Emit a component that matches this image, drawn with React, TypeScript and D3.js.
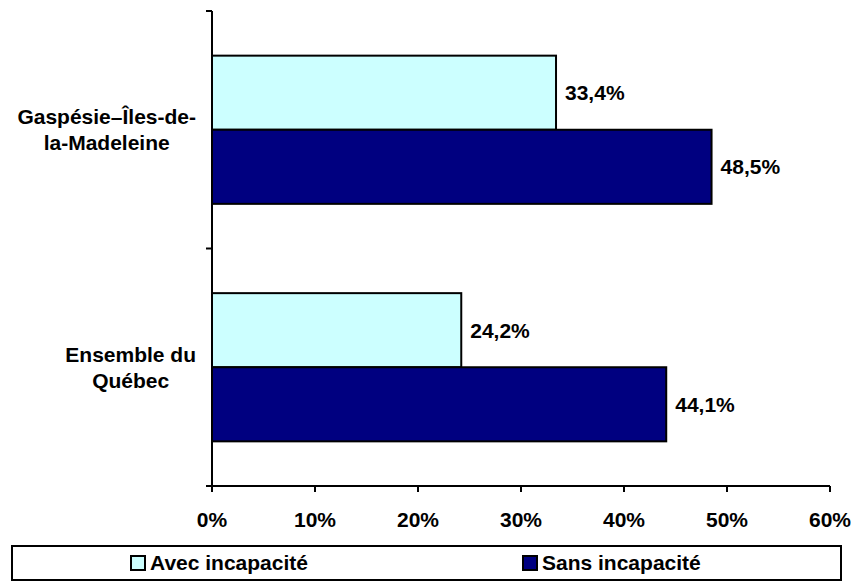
import * as d3 from "d3";
import { useEffect, useRef } from "react";

const CATEGORIES = ["Gaspésie–Îles-de-la-Madeleine", "Ensemble du Québec"];
const CATEGORY_LINES = [
  ["Gaspésie–Îles-de-", "la-Madeleine"],
  ["Ensemble du", "Québec"],
];
const SERIES = ["Avec incapacité", "Sans incapacité"];
const AVEC = [33.4, 24.2];
const SANS = [48.5, 44.1];
const X_TICKS = [0, 10, 20, 30, 40, 50, 60];
const COLORS = ["#CCFFFF", "#000080"];

const W = 863;
const H = 582;
const FONT = "'Liberation Sans', Arial, sans-serif";
const FS = 21;

export default function App() {
  const svgRef = useRef<SVGSVGElement>(null);

  useEffect(() => {
    if (!svgRef.current) return;
    const svg = d3.select(svgRef.current);
    svg.selectAll("*").remove();

    const left = 212;
    const right = 830;
    const top = 11;
    const bottom = 486;

    const x = d3.scaleLinear().domain([0, 60]).range([left, right]);
    const y = d3.scaleBand<string>().domain(CATEGORIES).range([top, bottom]);
    const barH = y.bandwidth() * 0.312;

    const fmt = (v: number) => v.toFixed(1).replace(".", ",") + "%";

    // bars
    CATEGORIES.forEach((c, i) => {
      const mid = (y(c) ?? 0) + y.bandwidth() / 2;
      const vals = [AVEC[i], SANS[i]];
      vals.forEach((v, s) => {
        const y0 = mid - barH + s * barH;
        svg
          .append("rect")
          .attr("x", x(0))
          .attr("y", y0)
          .attr("width", x(v) - x(0))
          .attr("height", barH)
          .attr("fill", COLORS[s])
          .attr("stroke", "#000")
          .attr("stroke-width", 2);
        svg
          .append("text")
          .attr("x", x(v) + 9)
          .attr("y", y0 + barH / 2)
          .attr("dy", "0.35em")
          .attr("font-family", FONT)
          .attr("font-weight", "bold")
          .attr("font-size", FS)
          .attr("fill", "#000")
          .text(fmt(v));
      });
    });

    // y axis
    svg
      .append("line")
      .attr("x1", left)
      .attr("x2", left)
      .attr("y1", top)
      .attr("y2", bottom + 6)
      .attr("stroke", "#000")
      .attr("stroke-width", 2);
    [top, y(CATEGORIES[1]) ?? 0, bottom].forEach((ty) => {
      svg
        .append("line")
        .attr("x1", left - 6)
        .attr("x2", left)
        .attr("y1", ty)
        .attr("y2", ty)
        .attr("stroke", "#000")
        .attr("stroke-width", 2);
    });

    // x axis
    svg
      .append("line")
      .attr("x1", left - 6)
      .attr("x2", right)
      .attr("y1", bottom)
      .attr("y2", bottom)
      .attr("stroke", "#000")
      .attr("stroke-width", 2);
    X_TICKS.forEach((t) => {
      svg
        .append("line")
        .attr("x1", x(t))
        .attr("x2", x(t))
        .attr("y1", bottom)
        .attr("y2", bottom + 6)
        .attr("stroke", "#000")
        .attr("stroke-width", 2);
      svg
        .append("text")
        .attr("x", x(t))
        .attr("y", bottom + 41)
        .attr("text-anchor", "middle")
        .attr("font-family", FONT)
        .attr("font-weight", "bold")
        .attr("font-size", FS)
        .text(t + "%");
    });

    // category labels: block right-aligned near axis, lines centered in block
    CATEGORIES.forEach((c, i) => {
      const mid = (y(c) ?? 0) + y.bandwidth() / 2;
      const lines = CATEGORY_LINES[i];
      const g = svg.append("g");
      const texts = lines.map((ln, k) =>
        g
          .append("text")
          .attr("y", mid + (k - (lines.length - 1) / 2) * 26)
          .attr("dy", "0.35em")
          .attr("text-anchor", "middle")
          .attr("font-family", FONT)
          .attr("font-weight", "bold")
          .attr("font-size", FS)
          .text(ln)
      );
      const maxW = d3.max(texts, (t) => (t.node() as SVGTextElement).getComputedTextLength()) ?? 0;
      texts.forEach((t) => t.attr("x", 196 - maxW / 2));
    });

    // legend
    svg
      .append("rect")
      .attr("x", 12)
      .attr("y", 546)
      .attr("width", 829)
      .attr("height", 34)
      .attr("fill", "#fff")
      .attr("stroke", "#000")
      .attr("stroke-width", 2);
    const legX = [131, 523];
    SERIES.forEach((s, i) => {
      svg
        .append("rect")
        .attr("x", legX[i])
        .attr("y", 556)
        .attr("width", 14)
        .attr("height", 14)
        .attr("fill", COLORS[i])
        .attr("stroke", "#000")
        .attr("stroke-width", 2);
      svg
        .append("text")
        .attr("x", legX[i] + 19)
        .attr("y", 563)
        .attr("dy", "0.35em")
        .attr("font-family", FONT)
        .attr("font-weight", "bold")
        .attr("font-size", FS)
        .text(s);
    });
  }, []);

  return (
    <svg
      ref={svgRef}
      width={W}
      height={H}
      style={{ position: "absolute", left: 0, top: 0, background: "#fff" }}
    />
  );
}
